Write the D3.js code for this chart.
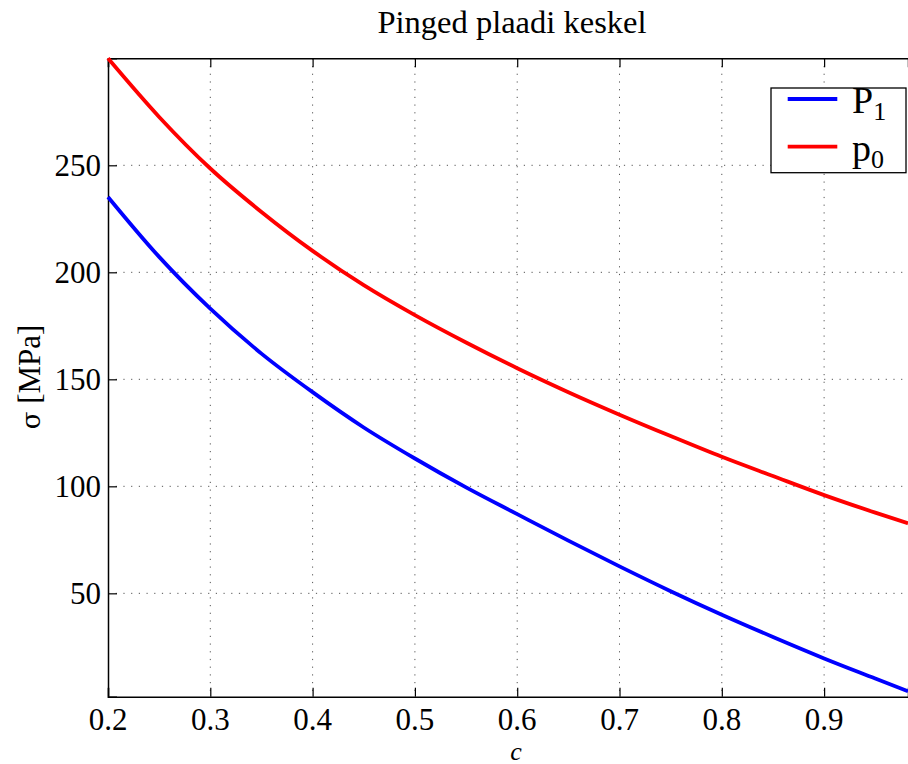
<!DOCTYPE html>
<html>
<head>
<meta charset="utf-8">
<script src="https://cdn.jsdelivr.net/npm/d3@7"></script>
<style>
  body { margin: 0; background: #fff; }
  svg { display: block; font-family: "Liberation Serif", "DejaVu Serif", serif; }
</style>
</head>
<body>
<svg id="chart" width="908" height="764"></svg>
<script>
// values
const cValues = [0.2, 0.25, 0.3, 0.35, 0.4, 0.45, 0.5, 0.55, 0.6, 0.65, 0.7, 0.75, 0.8, 0.85, 0.9, 0.95, 0.982];
const p0Values = [300, 272.6, 248.5, 228.2, 210, 194, 180, 167.2, 155.2, 144, 133.5, 123.5, 113.8, 104.8, 95.9, 87.7, 82.7];
const P1Values = [235.2, 207.2, 183, 162, 144, 127.5, 113, 99.5, 87, 74.6, 62.6, 51, 40, 29.6, 19.6, 10.2, 4.2];
const xTicks = [0.2, 0.3, 0.4, 0.5, 0.6, 0.7, 0.8, 0.9];
const yTicks = [50, 100, 150, 200, 250];
const seriesNames = [["P", "1"], ["p", "0"]];
const seriesColors = ["#0000ff", "#ff0000"];

const svg = d3.select("#chart");
const plotL = 108, plotR = 908, plotT = 58.3, plotB = 696.7;

const x = d3.scaleLinear().domain([0.2, 0.982]).range([plotL, plotR]);
const y = d3.scaleLinear().domain([1.7, 300]).range([plotB, plotT]);

// grid
const grid = svg.append("g").attr("stroke", "#555").attr("stroke-width", 1)
    .attr("stroke-dasharray", "1.2,6.5");
grid.selectAll(".gx").data(xTicks.slice(1)).enter().append("line")
    .attr("x1", d => x(d)).attr("x2", d => x(d))
    .attr("y1", plotT).attr("y2", plotB);
grid.selectAll(".gy").data(yTicks).enter().append("line")
    .attr("x1", plotL).attr("x2", plotR)
    .attr("y1", d => y(d)).attr("y2", d => y(d));

// axes (ticks pointing inward)
const xAxis = svg.append("g").attr("transform", `translate(0,${plotB})`)
    .call(d3.axisTop(x).tickValues(xTicks).tickSize(9).tickFormat(""));
const xAxisTop = svg.append("g").attr("transform", `translate(0,${plotT})`)
    .call(d3.axisBottom(x).tickValues(xTicks).tickSize(9).tickFormat(""));
const yAxis = svg.append("g").attr("transform", `translate(${plotL},0)`)
    .call(d3.axisRight(y).tickValues(yTicks).tickSize(9).tickFormat(""));
[xAxis, xAxisTop, yAxis].forEach(a => {
    a.select(".domain").attr("stroke", "#000").attr("stroke-width", 1.5);
    a.selectAll(".tick line").attr("stroke", "#000").attr("stroke-width", 1.2);
});

// tick labels
svg.selectAll(".xl").data(xTicks).enter().append("text")
    .attr("x", d => x(d)).attr("y", 729.5)
    .attr("text-anchor", "middle").attr("font-size", 31)
    .text(d => d.toFixed(1));
svg.selectAll(".yl").data(yTicks).enter().append("text")
    .attr("x", 101).attr("y", d => y(d) + 11)
    .attr("text-anchor", "end").attr("font-size", 31)
    .text(d => d);

// curves
const line = d3.line().curve(d3.curveMonotoneX)
    .x((d, i) => x(cValues[i])).y(d => y(d));
[P1Values, p0Values].forEach((vals, i) => {
    svg.append("path").datum(vals)
        .attr("d", line)
        .attr("fill", "none")
        .attr("stroke", seriesColors[i])
        .attr("stroke-width", 3.8);
});

// title and labels
svg.append("text").attr("x", 512).attr("y", 33)
    .attr("text-anchor", "middle").attr("font-size", 32.5)
    .text("Pinged plaadi keskel");
svg.append("text").attr("x", 516).attr("y", 759.5)
    .attr("text-anchor", "middle").attr("font-size", 26).attr("font-style", "italic")
    .text("c");
const yl = svg.append("text")
    .attr("transform", "translate(40,377) rotate(-90)")
    .attr("text-anchor", "middle").attr("font-size", 31);
yl.append("tspan").attr("font-family", "DejaVu Serif").attr("font-size", 26).text("σ");
yl.append("tspan").text(" [MPa]");

// legend
const lg = svg.append("g");
lg.append("rect").attr("x", 771).attr("y", 88).attr("width", 135).attr("height", 84.7)
    .attr("fill", "#fff").attr("stroke", "#000").attr("stroke-width", 1.3);
seriesNames.forEach((n, i) => {
    const ly = 99 + i * 47.7;
    lg.append("line").attr("x1", 787.7).attr("x2", 837.3).attr("y1", ly).attr("y2", ly)
        .attr("stroke", seriesColors[i]).attr("stroke-width", 3.8);
    const t = lg.append("text").attr("x", 852).attr("y", ly + 14).attr("font-size", 38);
    t.append("tspan").text(n[0]);
    t.append("tspan").attr("font-size", 26).attr("dy", 7).text(n[1]);
});
</script>
</body>
</html>
